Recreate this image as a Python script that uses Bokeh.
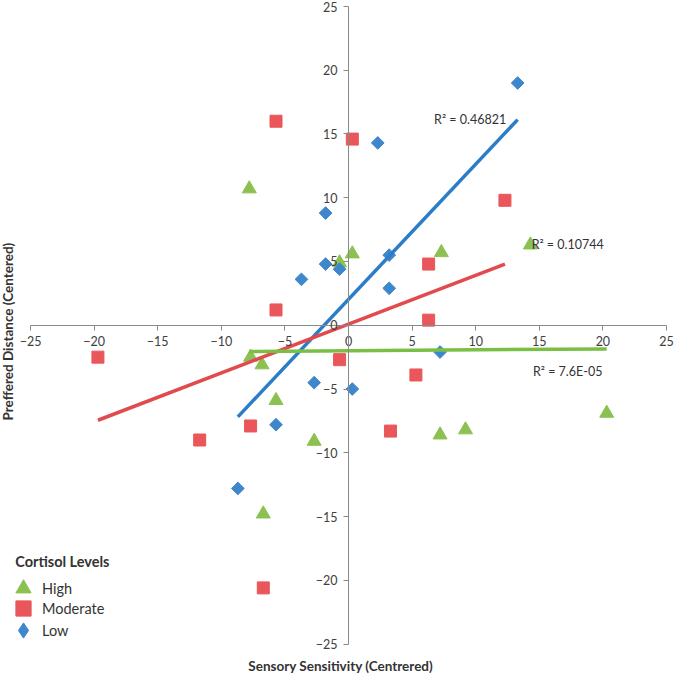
import numpy as np
from bokeh.plotting import figure
from bokeh.models import FixedTicker, Legend, LegendItem, Label
from bokeh.core.properties import value
from bokeh.embed import file_html
from bokeh.resources import INLINE

# ---- data ----
high_x = [-7.8, 0.3, -0.7, 7.3, 14.3, -7.7, -6.8, -5.7, -2.7, 7.2, 9.2, 20.3, -6.7]
high_y = [10.7, 5.6, 4.9, 5.7, 6.3, -2.5, -3.1, -5.9, -9.1, -8.6, -8.2, -6.9, -14.8]

mod_x = [-5.7, 0.3, -5.7, 12.3, 6.3, 6.3, -0.7, 5.3, 3.3, -7.7, -11.7, -19.7, -6.7]
mod_y = [16.0, 14.6, 1.2, 9.8, 4.8, 0.4, -2.7, -3.9, -8.3, -7.9, -9.0, -2.5, -20.6]

low_x = [13.3, 2.3, -1.8, -1.8, -0.7, -3.7, 3.2, 3.2, -2.7, 0.3, -5.7, -8.7, 7.2]
low_y = [19.0, 14.3, 8.8, 4.8, 4.4, 3.6, 5.5, 2.9, -4.5, -5.0, -7.8, -12.8, -2.1]

ticks = [-25, -20, -15, -10, -5, 0, 5, 10, 15, 20, 25]
r2_labels = ["R\u00b2 = 0.46821", "R\u00b2 = 0.10744", "R\u00b2 = 7.6E-05"]
series_names = ["High", "Moderate", "Low"]

GREEN = "#8cc152"
RED = "#e9575a"
BLUE = "#3f87cc"
GREEN_L = "#79bf45"
RED_L = "#e14b4e"
BLUE_L = "#2a7dc6"
FONT = "Lato"
TXT = "#333333"

p = figure(width=674, height=675, output_backend="svg", toolbar_location=None,
           x_range=(-27.36, 25.63), y_range=(-27.47, 25.47),
           min_border_left=0, min_border_right=0, min_border_top=0, min_border_bottom=0)
p.outline_line_color = None
p.xgrid.visible = False
p.ygrid.visible = False

for ax in (p.xaxis[0], p.yaxis[0]):
    ax.fixed_location = 0
    ax.bounds = (-25, 25)
    ax.ticker = FixedTicker(ticks=ticks)
    ax.minor_tick_line_color = None
    ax.axis_line_color = "#8a8a8a"
    ax.major_tick_line_color = "#8a8a8a"
    ax.major_tick_out = 5
    ax.major_tick_in = 0
    ax.major_label_text_font = FONT
    ax.major_label_text_font_size = "12.5px"
    ax.major_label_text_color = "#404040"
    ax.major_label_standoff = 6

def trend(xs, ys):
    xs = np.asarray(xs); ys = np.asarray(ys)
    m, b = np.polyfit(xs, ys, 1)
    ex = np.array([xs.min(), xs.max()])
    return ex, m * ex + b

p.scatter(high_x, high_y, marker="triangle", size=14, color=GREEN)
p.scatter(mod_x, mod_y, marker="square", size=12, color=RED)
p.scatter(low_x, low_y, marker="square", angle=np.pi / 4, size=9, color=BLUE)

tx, ty = trend(low_x, low_y)
p.line(tx, ty, line_color=BLUE_L, line_width=3.5)
tx, ty = trend(mod_x, mod_y)
p.line(tx, ty, line_color=RED_L, line_width=3.5)
tx, ty = trend(high_x, high_y)
p.line(tx, ty, line_color=GREEN_L, line_width=3.5)

# legend proxies (NaN data: nothing drawn in the plot, only the legend swatch)
nan = [float("nan")]
g_high = p.scatter(x=nan, y=nan, marker="triangle", color=GREEN)
g_mod = p.scatter(x=nan, y=nan, marker="square", color=RED)
g_low = p.scatter(x=nan, y=nan, marker="diamond", color=BLUE)

# R² annotations
p.text(x=[12.4], y=[16.1], text=[r2_labels[0]], text_font=value(FONT), text_font_size="12.5px",
       text_color=TXT, text_align="right", text_baseline="middle")
p.text(x=[14.4, 14.5], y=[6.35, -3.66], text=r2_labels[1:], text_font=value(FONT),
       text_font_size="12.5px", text_color=TXT, text_align="left", text_baseline="middle")

# one legend per entry so that large swatches can sit 21px apart
for name, rend, ybot in zip(series_names, [g_high, g_mod, g_low], [68, 48, 26]):
    lg = Legend(items=[LegendItem(label=name, renderers=[rend])],
                location=(4, ybot),
                label_text_font=FONT, label_text_font_size="14.5px", label_text_color=TXT,
                background_fill_alpha=0, border_line_color=None,
                padding=0, margin=0, spacing=0, glyph_width=38, glyph_height=38,
                label_height=21, label_standoff=0)
    p.add_layout(lg, "center")
p.add_layout(Label(x=-26.2, y=-18.5, text="Cortisol Levels", text_font=FONT,
                   text_font_size="14.5px", text_font_style="bold", text_color=TXT,
                   text_align="left", text_baseline="middle"))

# axis titles
p.add_layout(Label(x=-0.6, y=-26.75, text="Sensory Sensitivity (Centrered)", text_font=FONT,
                   text_font_size="13.5px", text_font_style="bold", text_color=TXT,
                   text_align="center", text_baseline="middle"))
p.add_layout(Label(x=-26.75, y=-0.5, angle=np.pi / 2, text="Preffered Distance (Centered)",
                   text_font=FONT, text_font_size="13.5px", text_font_style="bold",
                   text_color=TXT, text_align="center", text_baseline="middle"))

open("out.html", "w").write(file_html(p, INLINE))
